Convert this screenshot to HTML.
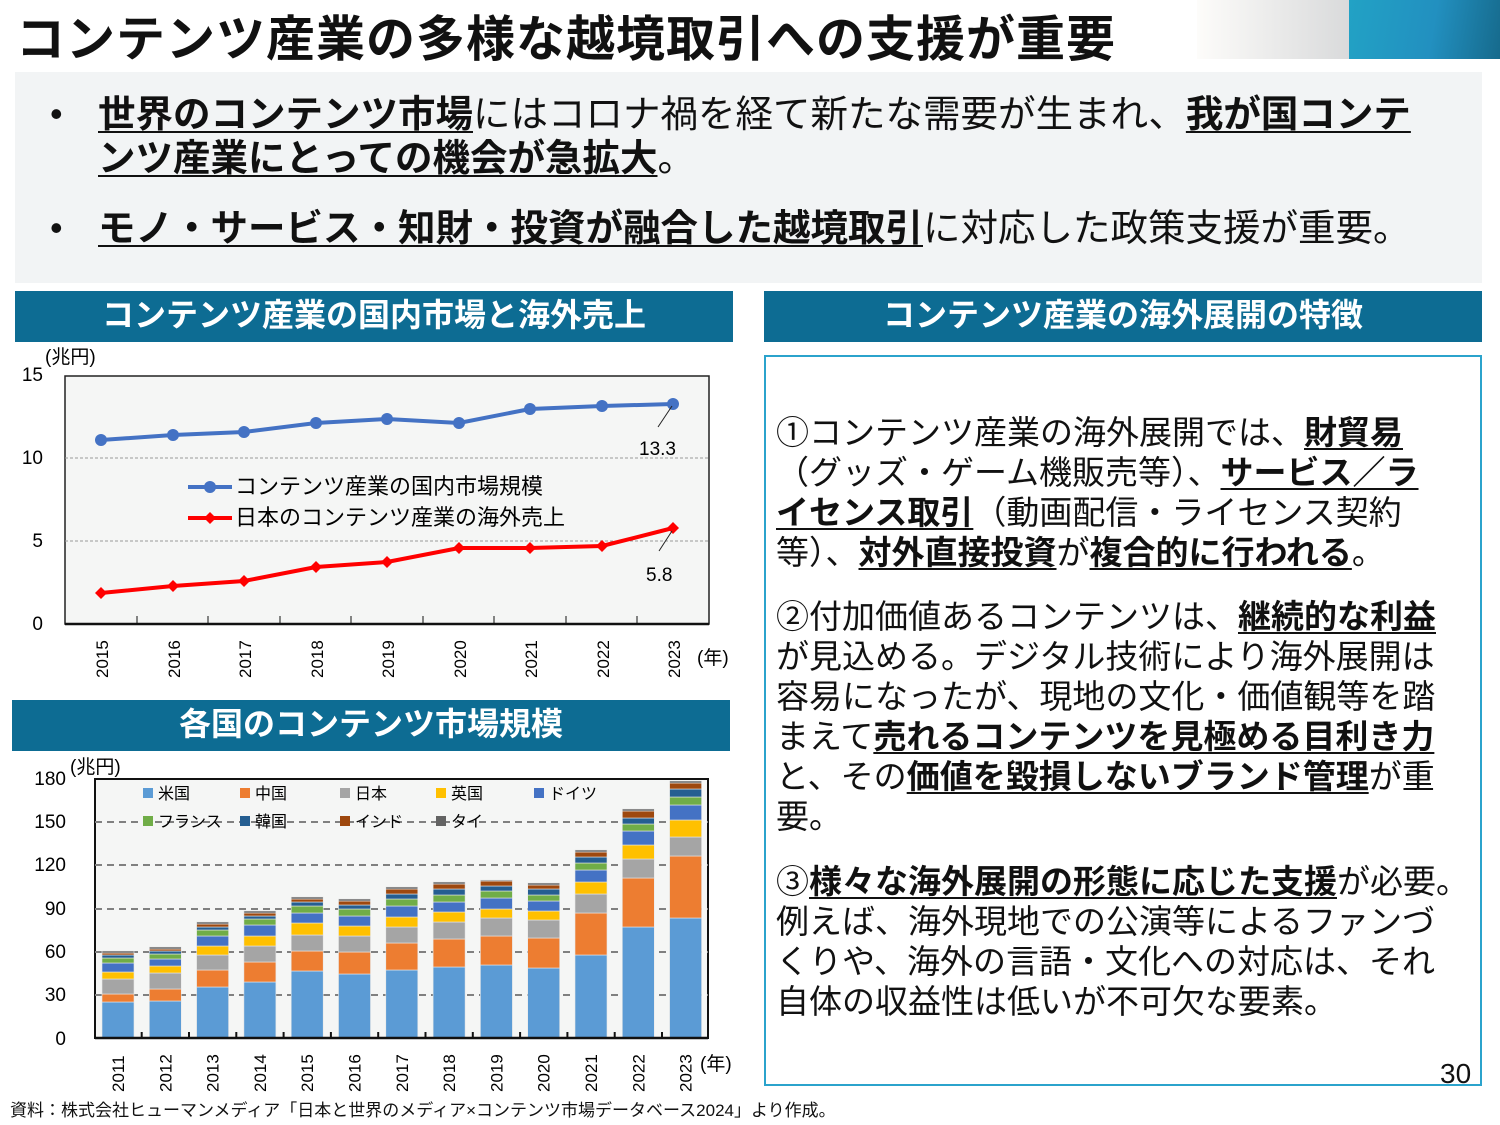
<!DOCTYPE html>
<html><head><meta charset="utf-8"><style>
*{margin:0;padding:0;box-sizing:border-box}
body{width:1500px;height:1125px;position:relative;background:#fff;font-family:"Liberation Sans","Noto Sans CJK JP",sans-serif;color:#111;overflow:hidden}
.a{position:absolute;white-space:nowrap}
.hd{position:absolute;background:#0d6c93;color:#fff;font-weight:bold;font-size:32px;text-align:center;line-height:48px}
u{text-decoration:underline;text-decoration-thickness:2px;text-underline-offset:4px}
.rt div{position:absolute;left:10px;white-space:nowrap;font-size:33px;line-height:40px}
</style></head><body>
<div class="a" style="left:16px;top:0px;font-size:49px;font-weight:bold;letter-spacing:1px">コンテンツ産業の多様な越境取引への支援が重要</div>
<div class="a" style="left:1197px;top:0;width:152px;height:59px;background:linear-gradient(90deg,#fdfcfa,#d9dadb)"></div>
<div class="a" style="left:1349px;top:0;width:151px;height:59px;background:linear-gradient(100deg,#22a2c5,#2290c0 55%,#166a8c)"></div>
<div class="a" style="left:15px;top:72px;width:1467px;height:211px;background:#f2f4f5"></div>
<div class="a" style="left:50px;top:92px;font-size:36px;line-height:44px">•</div>
<div class="a" style="left:50px;top:206px;font-size:36px;line-height:44px">•</div>
<div class="a" style="left:98px;top:92px;font-size:37.5px;line-height:44px"><b><u>世界のコンテンツ市場</u></b>にはコロナ禍を経て新たな需要が生まれ、<b><u>我が国コンテ</u></b><br><b><u>ンツ産業にとっての機会が急拡大</u></b>。</div>
<div class="a" style="left:98px;top:206px;font-size:37.5px;line-height:44px"><b><u>モノ・サービス・知財・投資が融合した越境取引</u></b>に対応した政策支援が重要。</div>
<div class="hd" style="left:15px;top:291px;width:718px;height:51px">コンテンツ産業の国内市場と海外売上</div>
<div class="hd" style="left:764px;top:291px;width:718px;height:51px">コンテンツ産業の海外展開の特徴</div>
<div class="hd" style="left:12px;top:700px;width:718px;height:51px">各国のコンテンツ市場規模</div>
<div class="a rt" style="left:764px;top:355px;width:718px;height:731px;border:2px solid #2ba3cc">
<div style="top:56px">①コンテンツ産業の海外展開では、<b><u>財貿易</u></b></div>
<div style="top:96px">（グッズ・ゲーム機販売等）、<b><u>サービス／ラ</u></b></div>
<div style="top:136px"><b><u>イセンス取引</u></b>（動画配信・ライセンス契約</div>
<div style="top:176px">等）、<b><u>対外直接投資</u></b>が<b><u>複合的に行われる</u></b>。</div>
<div style="top:240px">②付加価値あるコンテンツは、<b><u>継続的な利益</u></b></div>
<div style="top:280px">が見込める。デジタル技術により海外展開は</div>
<div style="top:320px">容易になったが、現地の文化・価値観等を踏</div>
<div style="top:360px">まえて<b><u>売れるコンテンツを見極める目利き力</u></b></div>
<div style="top:400px">と、その<b><u>価値を毀損しないブランド管理</u></b>が重</div>
<div style="top:440px">要。</div>
<div style="top:505px">③<b><u>様々な海外展開の形態に応じた支援</u></b>が必要。</div>
<div style="top:545px">例えば、海外現地での公演等によるファンづ</div>
<div style="top:585px">くりや、海外の言語・文化への対応は、それ</div>
<div style="top:625px">自体の収益性は低いが不可欠な要素。</div>
</div>
<div class="a" style="left:1440px;top:1058px;font-size:28px">30</div>
<div class="a" style="left:10px;top:1096px;font-size:17px">資料：株式会社ヒューマンメディア「日本と世界のメディア×コンテンツ市場データベース2024」より作成。</div>
<svg class="a" style="left:0;top:0" width="1500" height="1125" id="s" font-family="Liberation Sans, Noto Sans CJK JP, sans-serif"></svg>
<script>
var s='';
s+='<rect x="65" y="376" width="644" height="248" fill="#f5f6f5" stroke="#222" stroke-width="1.5"/>';
[458,541].forEach(y=>s+='<line x1="65" x2="709" y1="'+y+'" y2="'+y+'" stroke="#999" stroke-dasharray="3,2"/>');
s+='<line x1="65" x2="709" y1="624" y2="624" stroke="#111" stroke-width="2.5"/>';
[[15,381],[10,464],[5,547],[0,630]].forEach(a=>s+='<text x="43" y="'+a[1]+'" font-size="19" text-anchor="end">'+a[0]+'</text>');
s+='<text x="45" y="363" font-size="19">(兆円)</text>';
var xs=[101,173,244,316,387,459,530,602,673],by=[440,435,432,423,419,423,409,406,404],ry=[593,586,581,567,562,548,548,546,528];
for(var i=1;i<9;i++)s+='<line x1="'+(xs[i]-36)+'" x2="'+(xs[i]-36)+'" y1="616" y2="624" stroke="#111"/>';
xs.forEach((x,i)=>s+='<text transform="translate('+(x+7)+',678) rotate(-90)" font-size="17">'+(2015+i)+'</text>');
s+='<text x="697" y="664" font-size="19">(年)</text>';
s+='<polyline points="'+xs.map((x,i)=>x+','+by[i]).join(' ')+'" fill="none" stroke="#4472c4" stroke-width="4"/>';
s+='<polyline points="'+xs.map((x,i)=>x+','+ry[i]).join(' ')+'" fill="none" stroke="#ff0000" stroke-width="4"/>';
xs.forEach((x,i)=>{s+='<circle cx="'+x+'" cy="'+by[i]+'" r="6" fill="#4472c4"/>';s+='<path d="M'+x+' '+(ry[i]-6)+'l6 6-6 6-6-6z" fill="#ff0000"/>';});
s+='<line x1="658" y1="427" x2="672" y2="406" stroke="#222"/><text x="639" y="455" font-size="19">13.3</text>';
s+='<line x1="659" y1="551" x2="672" y2="531" stroke="#222"/><text x="646" y="581" font-size="19">5.8</text>';
s+='<line x1="188" x2="232" y1="487" y2="487" stroke="#4472c4" stroke-width="4"/><circle cx="210" cy="487" r="6" fill="#4472c4"/>';
s+='<text x="235" y="494" font-size="22">コンテンツ産業の国内市場規模</text>';
s+='<line x1="188" x2="232" y1="518" y2="518" stroke="#ff0000" stroke-width="4"/><path d="M210 512l6 6-6 6-6-6z" fill="#ff0000"/>';
s+='<text x="235" y="525" font-size="22">日本のコンテンツ産業の海外売上</text>';
s+='<rect x="95" y="779" width="613" height="259" fill="#f5f6f5" stroke="#111" stroke-width="2"/>';
[822,865,909,952,995].forEach(y=>s+='<line x1="95" x2="708" y1="'+y+'" y2="'+y+'" stroke="#808080" stroke-width="2" stroke-dasharray="7,5"/>');
[[180,785],[150,828],[120,871],[90,915],[60,958],[30,1001],[0,1045]].forEach(a=>s+='<text x="66" y="'+a[1]+'" font-size="19" text-anchor="end">'+a[0]+'</text>');
s+='<text x="70" y="773" font-size="19">(兆円)</text>';
var col=['#5b9bd5','#ed7d31','#a5a5a5','#ffc000','#4472c4','#70ad47','#255e91','#9e480e','#636363'];
var B=[[1002,994,979,972,963,958,955,953,951],[1001,989,973,966,959,954,951,949,947],[987,970,955,946,936,930,927,924,922],[982,962,946,936,925,919,916,913,911],[971,951,935,923,913,906,902,899,897],[974,952,936,926,916,909,905,901,899],[970,943,927,917,906,899,894,889,887],[967,939,922,912,902,895,889,884,882],[965,936,918,909,898,891,886,881,880],[968,938,920,911,901,895,889,885,883],[955,913,894,882,870,863,857,852,850],[927,878,859,845,831,824,818,811,809],[918,856,837,820,805,797,789,783,781]];
B.forEach((b,i)=>{var cx=118+i*47.3,prev=1038;b.forEach((t,k)=>{s+='<rect x="'+(cx-16)+'" y="'+t+'" width="32" height="'+(prev-t)+'" fill="'+col[k]+'" stroke="#e8e8e8" stroke-width="0.6"/>';prev=t;});
s+='<text transform="translate('+(cx+6)+',1092) rotate(-90)" font-size="17">'+(2011+i)+'</text>';
if(i>0)s+='<line x1="'+(cx-23.6)+'" x2="'+(cx-23.6)+'" y1="1032" y2="1038" stroke="#111" stroke-width="2"/>';});
s+='<line x1="95" x2="708" y1="1038" y2="1038" stroke="#111" stroke-width="2.5"/>';
s+='<text x="700" y="1070" font-size="19">(年)</text>';
var L=[['米国',143,793,0],['中国',240,793,1],['日本',340,793,2],['英国',436,793,3],['ドイツ',534,793,4],['フランス',143,821,5],['韓国',240,821,6],['インド',340,821,7],['タイ',436,821,8]];
L.forEach(l=>{s+='<rect x="'+l[1]+'" y="'+(l[2]-5)+'" width="10" height="10" fill="'+col[l[3]]+'"/><text x="'+(l[1]+15)+'" y="'+(l[2]+6)+'" font-size="16">'+l[0]+'</text>';});
document.getElementById('s').innerHTML=s;
</script>
</body></html>
